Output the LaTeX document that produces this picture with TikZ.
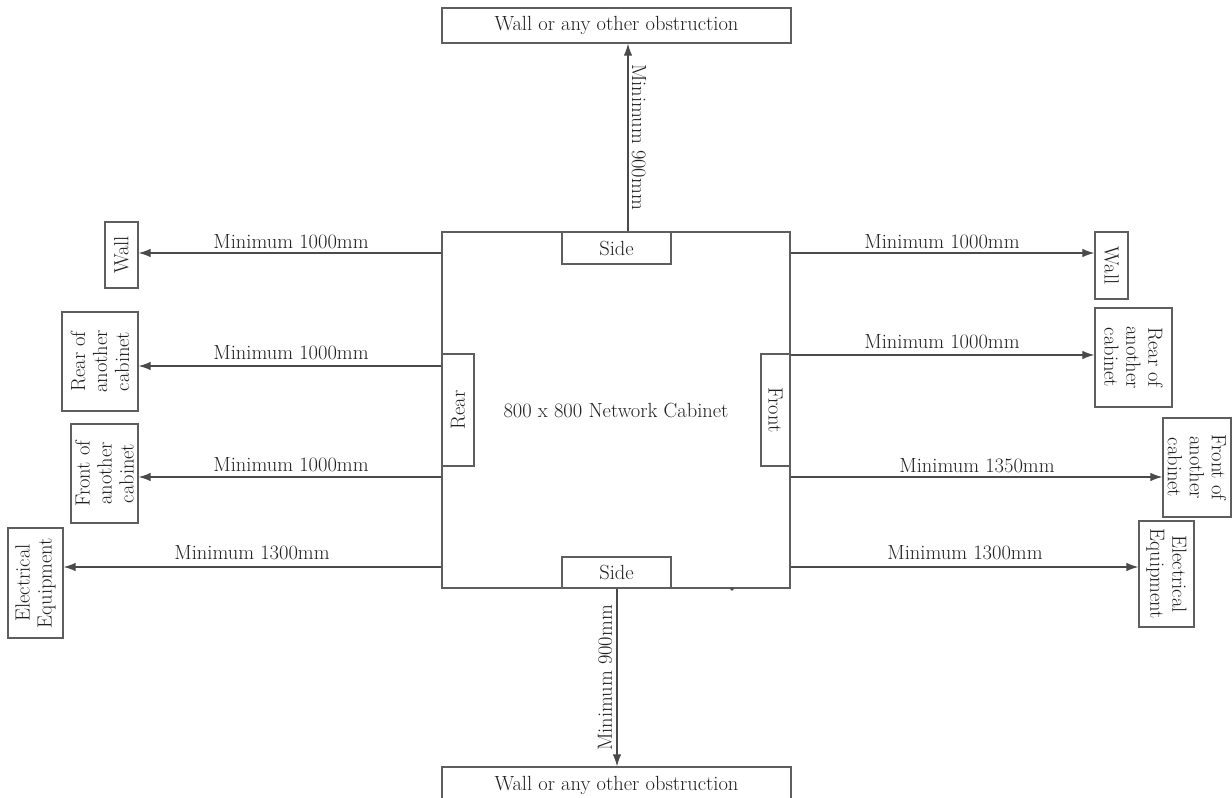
\documentclass[tikz,border=0pt]{standalone}
\usetikzlibrary{arrows.meta}
\definecolor{linec}{HTML}{4A4A4A}
\definecolor{boxc}{HTML}{5E5E5E}
\definecolor{txtc}{HTML}{202020}
\begin{document}
\begin{tikzpicture}[x=1pt,y=-1pt,
  every node/.style={text=txtc, font=\fontsize{20.5}{22}\selectfont},
  box/.style={draw=boxc, line width=1.3pt, inner sep=0pt, align=center},
  arr/.style={-{Latex[length=12pt,width=8.5pt]}, line width=1.2pt, draw=linec},
  lbl/.style={inner sep=0pt, anchor=base}]
\useasboundingbox (0,0) rectangle (1232,798);
\clip (0,0) rectangle (1232,798);
\fill[white] (0,0) rectangle (1232,798);
% main cabinet
\node[box, minimum width=348pt, minimum height=356pt] (cab) at (616,410) {};
\node (title) at (616,410) {800 x 800 Network Cabinet};
\node[box, minimum width=109pt, minimum height=32pt] (sidetop) at (616.5,248) {Side};
\node[box, minimum width=109pt, minimum height=31pt] (sidebot) at (616.5,572.5) {Side};
\node[box, rotate=90, minimum width=112pt, minimum height=32pt] (rear) at (458,410) {Rear};
\node[box, rotate=-90, minimum width=112pt, minimum height=29pt] (front) at (775.5,410) {Front};
\fill[linec] (732,589) circle (1.8pt);
% top / bottom obstructions
\node[box, minimum width=349pt, minimum height=35pt] (topwall) at (616.5,25.5) {Wall or any other obstruction};
\node[box, minimum width=349pt, minimum height=36pt] (botwall) at (616.5,785) {Wall or any other obstruction};
% left boxes
\node[box, rotate=90, minimum width=66pt, minimum height=33pt] (lwall) at (121.5,255) {Wall};
\node[box, rotate=90, minimum width=99pt, minimum height=76pt] (lrear) at (100,361.5) {Rear of\\another\\cabinet};
\node[box, rotate=90, minimum width=99pt, minimum height=67pt] (lfront) at (104.5,473.5) {Front of\\another\\cabinet};
\node[box, rotate=90, minimum width=110pt, minimum height=55pt] (lelec) at (35.5,583) {Electrical\\Equipment};
% right boxes
\node[box, rotate=-90, minimum width=67pt, minimum height=33pt] (rwall) at (1111.5,265.5) {Wall};
\node[box, rotate=-90, minimum width=99pt, minimum height=77pt] (rrear) at (1133.5,357.5) {Rear of\\another\\cabinet};
\node[box, rotate=-90, minimum width=99pt, minimum height=68pt] (rfront) at (1197,467.5) {Front of\\another\\cabinet};
\node[box, rotate=-90, minimum width=106pt, minimum height=55pt] (relec) at (1166.5,574) {Electrical\\Equipment};
% vertical arrows
\draw[arr] (cab.north -| 628,0) -- (topwall.south -| 628,0);
\draw[arr] (sidebot.south -| 617,0) -- (botwall.north -| 617,0);
\node[rotate=-90, inner sep=0pt] (ltop) at (639,137) {Minimum 900mm};
\node[rotate=90, inner sep=0pt] (lbot) at (605,678) {Minimum 900mm};
% left arrows
\draw[arr] (cab.west |- 0,253) -- (lwall.south |- 0,253);
\draw[arr] (cab.west |- 0,366) -- (lrear.south |- 0,366);
\draw[arr] (cab.west |- 0,477) -- (lfront.south |- 0,477);
\draw[arr] (cab.west |- 0,567) -- (lelec.south |- 0,567);
\node[lbl] (l1) at (291,248) {Minimum 1000mm};
\node[lbl] (l2) at (291,359) {Minimum 1000mm};
\node[lbl] (l3) at (291,471) {Minimum 1000mm};
\node[lbl] (l4) at (252,559) {Minimum 1300mm};
% right arrows
\draw[arr] (cab.east |- 0,253) -- (rwall.south |- 0,253);
\draw[arr] (cab.east |- 0,355) -- (rrear.south |- 0,355);
\draw[arr] (cab.east |- 0,477) -- (rfront.south |- 0,477);
\draw[arr] (cab.east |- 0,567) -- (relec.south |- 0,567);
\node[lbl] (r1) at (942,248) {Minimum 1000mm};
\node[lbl] (r2) at (942,348) {Minimum 1000mm};
\node[lbl] (r3) at (977,472) {Minimum 1350mm};
\node[lbl] (r4) at (965,559) {Minimum 1300mm};
\end{tikzpicture}
\end{document}
